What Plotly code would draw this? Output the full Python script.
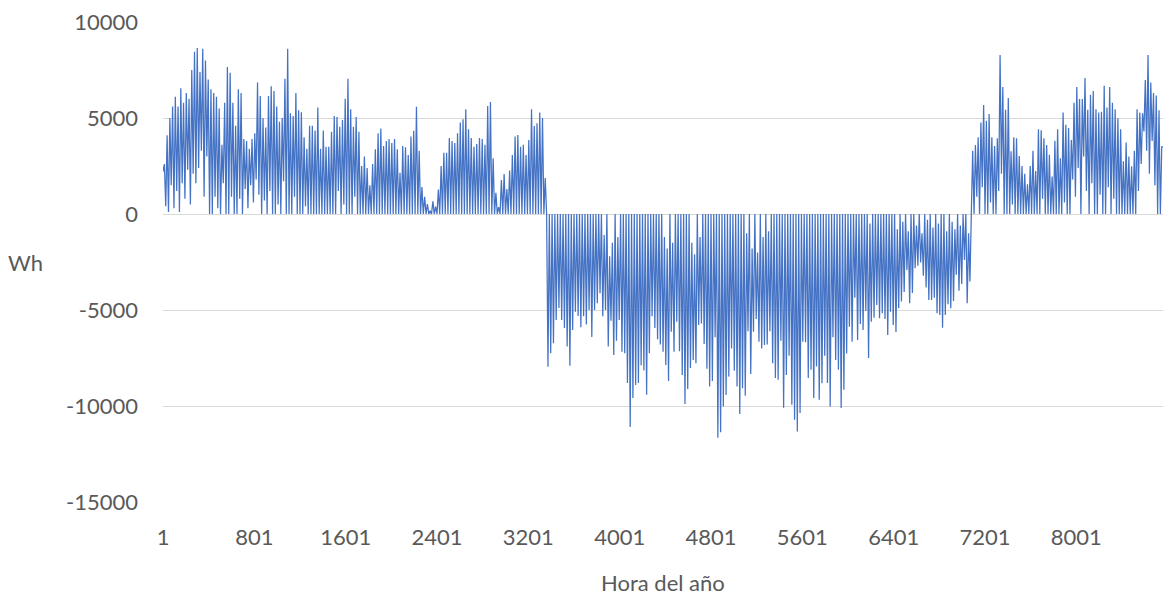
import plotly.graph_objects as go

# Daily peak values (Wh), one value per day
peak_winter_start = [
    2600, 4100, 5000, 5600, 6100, 5600, 6550, 5800, 6300, 6000,
    7500, 8450, 8650, 7400, 8600, 8000, 7000, 6500, 6300, 6100,
    5500, 3600, 5800, 7650, 7350, 5800, 4600, 6500, 6300, 3900,
    3800, 3400, 3900, 4200, 6850, 6150, 5000, 4500, 6150, 6650,
    6400, 5600, 4800, 5000, 7050, 8600, 5250, 5100, 6300, 5400,
    5300, 4000, 3400, 4600, 4600, 4350, 5550, 3400, 4350, 3500,
    3500,
    4280, 5100, 5050, 4550, 4900, 6000, 7050, 5450, 4550, 5050,
    4280, 2500, 3000, 2400, 1500, 2600, 3370, 4200, 4450, 3540,
    3800, 3900, 3700, 3900, 3370, 2150, 3540, 3470, 3070, 4030,
    4340, 5590, 3300, 1400, 900, 520, 170, 660, 380, 1280,
    2500, 3190, 3190, 3960, 3800, 3700, 4200, 4760, 4930, 5450,
    4410, 3960, 3500, 3650, 3960, 3900, 3600, 5620, 5830, 2900,
    1100, 360, 1770, 2080, 1300, 2260, 3070, 4030, 4110, 3500,
    3600, 3070, 3850, 5460, 4580, 4720, 5280, 5000, 1870,
]
trough_winter_start = [
    2200, 400, 100, 1500, 300, 1200, 100, 1600, 800, 2300,
    500, 2100, 1600, 2400, 3300, 900, 3000, 0, 0, 900,
    300, 0, 1600, 0, 0, 900, 0, 0, 800, 0,
    1300, 300, 1500, 600, 1800, 1000, 0, 700, 0, 1200,
    0, 0, 500, 0, 1700, 0, 0, 0, 900, 0,
    0, 0, 400, 0, 0, 0, 0, 0, 0, 0,
    0, 0, 0, 0, 1200, 0, 500, 0, 0, 0,
    900, 0, 0, 0, 0, 0, 0, 0, 0, 0,
    0, 0, 0, 0, 0, 0, 0, 0, 0, 0,
    0, 0, 0, 0, 0, 0, 0, 0, 0, 0,
    0, 0, 0, 0, 0, 0, 0, 0, 0, 0,
    0, 0, 0, 0, 0, 0, 0, 0, 0, 0,
    0, 0, 0, 0, 0, 0, 0, 0, 0, 0,
    0, 0, 0, 0, 0, 0, 0, 0, 0, 0,
]

peak_summer = [
    -7950, -7250, -6730, -5520, -4900, -5520, -5940, -6900, -7900, -6040,
    -5090, -5310, -5900, -5330, -5760, -5000, -6400, -5000, -4650, -4130,
    -5330, -5000, -6900, -5560, -7340, -6600, -5520, -7170, -7250, -8800,
    -11090, -9580, -8900, -8800, -7880, -8150, -9420, -7250, -5330, -5940,
    -6520, -6800,
    -7170, -7860, -8700, -6130, -7170, -5610, -7150, -8380, -9900, -9110,
    -8020, -7600, -7770, -5780, -5700, -6770, -8060, -8990, -8700, -6420,
    -11650, -11370, -10030, -9430, -8470, -7000, -8160, -8990, -10420, -9070,
    -9460, -6100, -8330, -6130, -5470, -6650, -7000, -6820, -6790, -6100,
    -7770, -8540, -8630, -6600, -10090, -8380, -7380, -9930, -10720, -11330,
    -10370, -6650, -6680, -8540, -8110, -9580, -7940, -9670, -8810, -7380,
    -8800, -10030, -6420, -7600, -8110, -10100, -9160, -7260, -5870, -6650,
    -4360, -6560, -5730, -6040, -5050, -7500, -5610, -5400, -4740, -5430,
    -5170, -5470, -6300, -5090, -5780, -6150, -4910, -4560, -4060, -2920,
    -4650, -4110, -2830, -2690, -2520, -3210, -3830, -4480, -4480, -4360,
    -5170, -5260, -5920, -5260, -4700, -4910, -4530, -3170, -4000, -3650,
    -2390, -4650, -3520,
]
trough_summer = [
    0, 0, 0, 0, 0, 0, 0, 0, 0, 0,
    0, 0, 0, 0, 0, 0, 0, 0, 0, 0,
    0, -1100, 0, -2200, -1500, 0, -1200, 0, 0, 0,
    0, 0, 0, 0, 0, 0, 0, 0, 0, 0,
    0, 0, 0, -1200, -1800, 0, -1500, 0, 0, 0,
    0, 0, 0, -1500, -2100, 0, -1200, 0, 0, 0,
    0, 0, 0, 0, 0, 0, 0, 0, 0, 0,
    0, 0, 0, -1000, 0, -1800, 0, -2000, 0, -1200,
    0, -900, 0, 0, 0, 0, 0, 0, 0, 0,
    0, 0, 0, 0, 0, 0, 0, 0, 0, 0,
    0, 0, 0, 0, 0, 0, 0, 0, 0, 0,
    0, 0, 0, 0, 0, 0, 0, 0, -500, 0,
    0, 0, 0, 0, 0, 0, 0, 0, -800, 0,
    -400, 0, -900, 0, 0, -600, 0, -1000, 0, -300,
    0, -700, 0, -500, 0, 0, -900, 0, -400, -800,
    0, -600, 0, 0, -1000,
]

peak_winter_end = [
    3300, 3590, 4000, 4760, 5680, 4860, 5210, 4000, 3540, 3950,
    8280, 6610, 5430, 6040, 3270, 4000, 3950, 3020, 2500, 2100,
    1550, 2500, 3300, 2240, 4420, 4360, 3950, 3590, 3080, 1950,
    3820, 4420, 2900, 5280, 4650, 4480, 3850, 5800, 6610, 5990,
    5990, 7080, 5430, 6210, 6400, 5450, 5280, 5330, 6680, 5550,
    6610, 5800, 5450, 4980, 4420, 2740, 3720, 2990, 2480, 3300,
    5450, 5280, 5250, 6980, 8280, 6850, 6300, 6170, 5400, 3500,
]
trough_winter_end = [
    0, 0, 900, 0, 1400, 0, 0, 600, 0, 0,
    1200, 2100, 0, 0, 0, 500, 0, 0, 0, 0,
    0, 0, 0, 0, 0, 0, 800, 0, 0, 0,
    0, 0, 0, 0, 600, 0, 0, 1800, 900, 2400,
    0, 3000, 1200, 0, 1600, 0, 0, 1000, 0, 0,
    1400, 0, 800, 0, 0, 0, 0, 0, 0, 0,
    0, 1200, 2600, 4300, 3300, 2100, 3800, 1500, 0, 0,
]
final_value = 3500

tick_hours = [1, 801, 1601, 2401, 3201, 4001, 4801, 5601, 6401, 7201, 8001]
y_ticks = [-15000, -10000, -5000, 0, 5000, 10000]

peaks = peak_winter_start + peak_summer + peak_winter_end
troughs = trough_winter_start + trough_summer + trough_winter_end

hours, values = [], []
for day, (tr, pk) in enumerate(zip(troughs, peaks)):
    hours += [24 * day + 1, 24 * day + 13]
    values += [tr, pk]
hours.append(8760)
values.append(final_value)

font_family = "Lato, 'Liberation Sans', sans-serif"
txt = "#595959"
fs = 22

fig = go.Figure()
fig.add_trace(go.Scatter(
    x=hours, y=values, mode="lines",
    line=dict(color="#4472C4", width=1.25),
    hoverinfo="skip", showlegend=False,
))

fig.update_layout(
    width=1163, height=599,
    margin=dict(l=163, r=0, t=22, b=97),
    paper_bgcolor="white", plot_bgcolor="white",
    font=dict(family=font_family, size=fs, color=txt),
    xaxis=dict(
        range=[1, 8760], tickmode="array", tickvals=tick_hours,
        ticktext=[str(t) for t in tick_hours],
        showgrid=False, zeroline=False, showline=False, ticks="",
        ticklabelstandoff=20,
        tickfont=dict(size=fs, color=txt, family=font_family),
    ),
    yaxis=dict(
        range=[-15000, 10000], tickmode="array", tickvals=y_ticks,
        ticktext=[str(t) for t in y_ticks],
        showgrid=True, gridcolor="#D9D9D9", gridwidth=1,
        zeroline=False, showline=False, ticks="",
        ticklabelstandoff=24,
        tickfont=dict(size=fs, color=txt, family=font_family),
    ),
    annotations=[
        dict(text="Wh", xref="paper", yref="paper", x=-0.138, y=0.5,
             showarrow=False, xanchor="center", yanchor="middle",
             font=dict(size=fs, color=txt, family=font_family)),
        dict(text="Hora del año", xref="paper", yref="paper", x=0.5, y=-0.1667,
             showarrow=False, xanchor="center", yanchor="middle",
             font=dict(size=fs, color=txt, family=font_family)),
    ],
)

fig.write_html("out.html")
